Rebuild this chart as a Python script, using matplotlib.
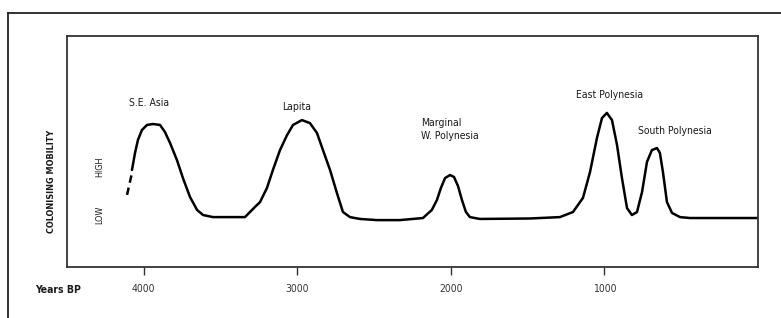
import matplotlib
matplotlib.use("Agg")
import matplotlib.pyplot as plt
from matplotlib.lines import Line2D

# ---- data (years BP, relative colonising mobility 0-100) ----
dash_years = [4109, 4077]
dash_vals = [31.2, 40.7]

years = [4077, 4057, 4038, 4012, 3979, 3940, 3894, 3862, 3829, 3784, 3745, 3699,
         3653, 3614, 3549, 3419, 3341, 3295, 3276, 3243, 3198, 3159, 3113, 3067,
         3028, 2970, 2918, 2872, 2833, 2787, 2742, 2703, 2657, 2592, 2481, 2332,
         2182, 2124, 2091, 2065, 2038, 2006, 1980, 1954, 1928, 1902, 1876, 1811,
         1485, 1290, 1205, 1140, 1094, 1049, 1016, 984, 951, 918, 886, 853,
         821, 788, 755, 723, 691, 658, 639, 619, 593, 560, 508, 443, 0]
mobility = [42.0, 49.4, 55.0, 59.3, 61.5, 61.9, 61.5, 58.4, 53.7, 46.3, 38.5, 30.3,
            24.7, 22.5, 21.6, 21.6, 21.6, 24.7, 26.0, 28.1, 34.2, 42.0, 50.6, 57.1,
            61.5, 63.6, 62.3, 58.0, 50.6, 42.0, 32.0, 23.8, 21.6, 20.8, 20.3, 20.3,
            21.2, 24.7, 29.0, 34.2, 38.5, 39.8, 39.0, 35.1, 29.0, 23.8, 21.6, 20.8,
            21.0, 21.6, 23.8, 29.9, 41.1, 55.8, 64.5, 66.7, 63.6, 52.8, 38.5, 25.5,
            22.5, 23.8, 32.5, 45.5, 50.6, 51.5, 49.4, 41.1, 28.1, 23.4, 21.6, 21.2, 21.2]

tick_years = [4000, 3000, 2000, 1000]
tick_labels = ["4000", "3000", "2000", "1000"]

peak_labels = ["S.E. Asia", "Lapita", "Marginal\nW. Polynesia", "East Polynesia", "South Polynesia"]
peak_label_years = [3966, 3002, 2195, 964, 541]
peak_label_vals = [71, 69.3, 59.5, 74.5, 58.9]
peak_label_ha = ["center", "center", "left", "center", "center"]

plt.rcParams["font.family"] = ["DejaVu Sans"]
plt.rcParams["font.stretch"] = "condensed"
TXT = "#1a1a1a"

fig = plt.figure(figsize=(7.81, 3.18), dpi=100)
W, H = 781, 318

ax = fig.add_axes([67 / W, 1 - 267 / H, (758 - 67) / W, (267 - 36) / H])
ax.set_xlim(4500, 0)
ax.set_ylim(0, 100)

ax.plot(years, mobility, color="black", lw=1.8, solid_joinstyle="round", solid_capstyle="round")
ax.plot(dash_years, dash_vals, color="black", lw=1.8, ls=(0, (3, 2)))

for s in ax.spines.values():
    s.set_linewidth(1.3)
    s.set_color("#333333")

ax.set_xticks(tick_years)
ax.set_xticklabels(tick_labels, fontsize=7.5, color=TXT, fontstretch="condensed")
ax.tick_params(axis="x", direction="out", length=6, width=1, pad=6, colors="#333333")
ax.set_yticks([])

for lab, xv, yv, ha in zip(peak_labels, peak_label_years, peak_label_vals, peak_label_ha):
    ax.text(xv, yv, lab, ha=ha, va="center", fontsize=7.5, color=TXT, linespacing=1.45,
            fontstretch="condensed")

fig.text(35 / W, 1 - 290 / H, "Years BP", ha="left", va="center", fontsize=7.5, color=TXT,
         fontweight="bold", fontstretch="condensed")
fig.text(52 / W, 1 - 181 / H, "COLONISING MOBILITY", rotation=90, ha="center", va="center",
         fontsize=6.5, color=TXT, fontweight="bold", fontstretch="condensed")
fig.text(100 / W, 1 - 167 / H, "HIGH", rotation=90, ha="center", va="center", fontsize=6.5,
         color=TXT, fontstretch="condensed")
fig.text(100 / W, 1 - 215 / H, "LOW", rotation=90, ha="center", va="center", fontsize=6.5,
         color=TXT, fontstretch="condensed")

# outer frame (top and left visible)
fig.add_artist(Line2D([8 / W, 1.0], [1 - 13 / H, 1 - 13 / H], transform=fig.transFigure, color="#222222", lw=1.3))
fig.add_artist(Line2D([8 / W, 8 / W], [1 - 13 / H, 0.0], transform=fig.transFigure, color="#222222", lw=1.3))

fig.savefig("out.png", dpi=100)
